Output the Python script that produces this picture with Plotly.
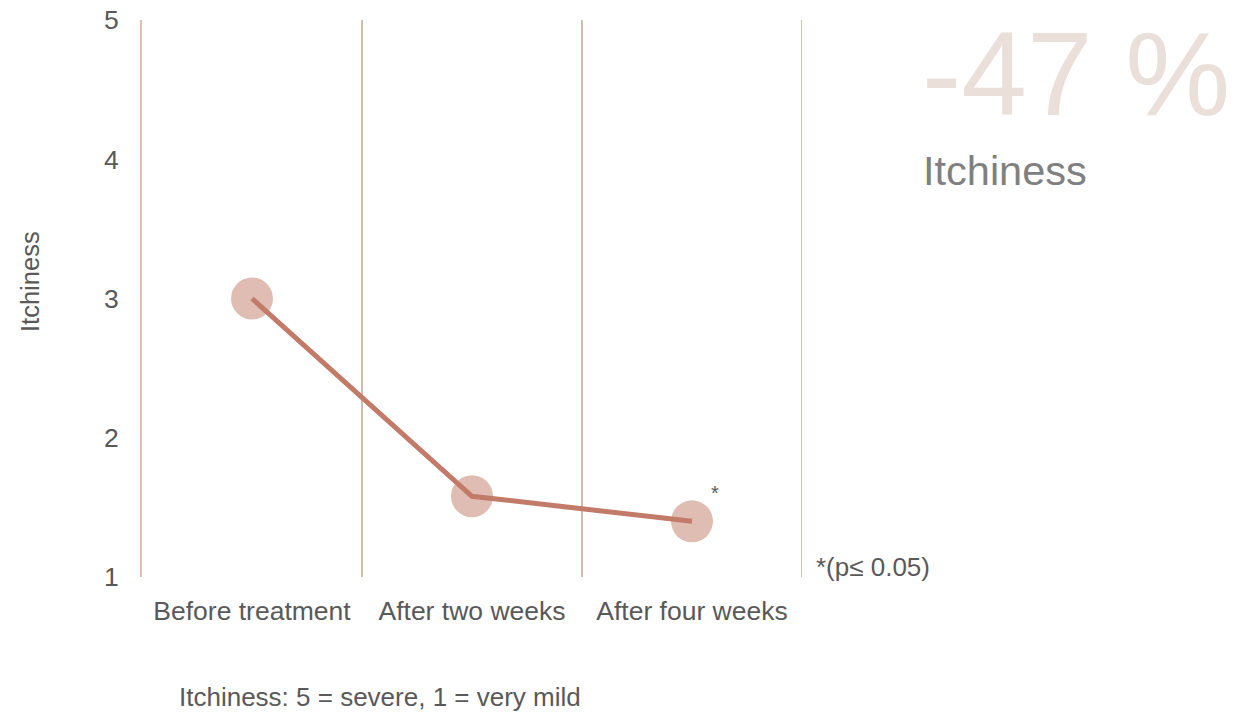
import plotly.graph_objects as go

# Data
categories = ["Before treatment", "After two weeks", "After four weeks"]
itchiness = [3.0, 1.58, 1.40]
y_ticks = [1, 2, 3, 4, 5]
significant = [False, False, True]

change_label = "-47 %"
metric_name = "Itchiness"
scale_note = "Itchiness: 5 = severe, 1 = very mild"
p_note = "*(p\u2264 0.05)"

FONT = "Liberation Sans, Arial, sans-serif"
TEXT_GREY = "#595959"
LINE_COLOR = "#C27B68"
MARKER_COLOR = "#E0BDB3"
GRID_COLOR = "#D3BCAC"

# Plot-area geometry in pixels (used to place paper-referenced notes)
L, T, W, H = 142, 20, 660, 557


def px_x(x):
    return (x - L) / W


def px_y(y):
    return (T + H - y) / H


fig = go.Figure()

# Large circular markers beneath the connecting line
fig.add_trace(go.Scatter(
    x=categories, y=itchiness, mode="markers",
    marker=dict(size=42, color=MARKER_COLOR, line=dict(width=0)),
    hoverinfo="skip", showlegend=False,
))

# Trend line over the markers
fig.add_trace(go.Scatter(
    x=categories, y=itchiness, mode="lines",
    line=dict(color=LINE_COLOR, width=5),
    showlegend=False,
))

fig.update_layout(
    width=1243, height=713,
    margin=dict(l=L, r=1243 - L - W, t=T, b=713 - T - H, autoexpand=False),
    paper_bgcolor="white", plot_bgcolor="white",
    font=dict(family=FONT, size=26, color=TEXT_GREY),
    xaxis=dict(
        type="category", range=[-0.5, len(categories) - 0.5],
        tickson="boundaries", ticks="",
        showgrid=True, gridcolor=GRID_COLOR, gridwidth=2,
        showline=False, zeroline=False, automargin=False,
        tickfont=dict(family=FONT, size=26.5, color=TEXT_GREY),
        ticklabelstandoff=15,
    ),
    yaxis=dict(
        range=[1, 5], tickvals=y_ticks, ticks="",
        showgrid=False, zeroline=False, automargin=False,
        showline=True, linecolor="#E0BFB3", linewidth=2,
        tickfont=dict(family=FONT, size=26.5, color=TEXT_GREY),
        ticklabelstandoff=16,
    ),
)

# Closing boundary line on the right of the last category
fig.add_shape(
    type="line", xref="x", yref="paper",
    x0=len(categories) - 0.5, x1=len(categories) - 0.5, y0=0, y1=1,
    line=dict(color=GRID_COLOR, width=2), layer="below",
)

# Significance asterisks next to the flagged points
for cat, val, sig in zip(categories, itchiness, significant):
    if sig:
        fig.add_annotation(
            x=cat, y=val, text="*", showarrow=False,
            xshift=23, yshift=28,
            font=dict(family=FONT, size=20, color=TEXT_GREY),
        )

# Rotated axis title
fig.add_annotation(
    text=metric_name, xref="paper", yref="paper",
    x=px_x(30), y=px_y(282), xanchor="center", yanchor="middle",
    textangle=-90, showarrow=False,
    font=dict(family=FONT, size=25.5, color=TEXT_GREY),
)

# Headline change figure and its label
fig.add_annotation(
    text=change_label, xref="paper", yref="paper",
    x=px_x(920), y=px_y(74), xanchor="left", yanchor="middle",
    showarrow=False,
    font=dict(family=FONT, size=118, color="#EAE0D9"),
)
fig.add_annotation(
    text=metric_name, xref="paper", yref="paper",
    x=px_x(921), y=px_y(170), xanchor="left", yanchor="middle",
    showarrow=False,
    font=dict(family=FONT, size=41.5, color="#808080"),
)

# Significance note beside the last boundary line
fig.add_annotation(
    text=p_note, xref="paper", yref="paper",
    x=px_x(814), y=px_y(567), xanchor="left", yanchor="middle",
    showarrow=False,
    font=dict(family=FONT, size=26, color=TEXT_GREY),
)

# Scale explanation under the chart
fig.add_annotation(
    text=scale_note, xref="paper", yref="paper",
    x=px_x(177), y=px_y(697), xanchor="left", yanchor="middle",
    showarrow=False,
    font=dict(family=FONT, size=26, color=TEXT_GREY),
)

fig.write_html("out.html")
